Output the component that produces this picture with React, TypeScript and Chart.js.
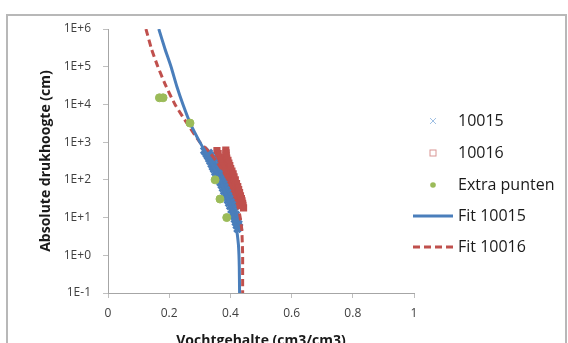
import React, { useEffect, useRef } from 'react';
import { Chart, registerables } from 'chart.js';
Chart.register(...registerables);

// Axis ticks
const yTickValues = [0.1, 1, 10, 100, 1000, 10000, 100000, 1000000];
const yTickLabels = ['1E-1', '1E+0', '1E+1', '1E+2', '1E+3', '1E+4', '1E+5', '1E+6'];

// Fit curves (pressure head h in cm, water content theta)
const fitHeads = [1e6, 3e5, 1e5, 3e4, 1e4, 3e3, 1e3, 500, 200, 100, 50, 20, 10, 5, 2, 1, 0.5, 0.1];
const fit10015Theta = [0.166, 0.186, 0.206, 0.225, 0.245, 0.270, 0.300, 0.322, 0.347, 0.366, 0.381, 0.400, 0.411, 0.420, 0.426, 0.428, 0.429, 0.430];
const fit10016Theta = [0.124, 0.142, 0.163, 0.190, 0.219, 0.260, 0.300, 0.335, 0.370, 0.392, 0.410, 0.425, 0.432, 0.437, 0.439, 0.440, 0.440, 0.440];

// Measured series 10015
const data10015Head = [600, 550, 480, 420, 360, 310, 260, 220, 190, 160, 135, 115, 100, 85, 72, 60, 50, 42, 35, 29, 24, 20, 16, 13, 11, 9, 7.5, 6.2, 5,
  520, 450, 390, 330, 285, 240, 205, 175, 148, 125, 108, 92, 78, 66, 55, 46, 38, 32, 26, 22, 18, 14.5, 12, 10, 8.2, 6.8, 5.6];
const data10015Theta = [0.314, 0.318, 0.322, 0.326, 0.330, 0.334, 0.338, 0.342, 0.346, 0.350, 0.355, 0.359, 0.363, 0.367, 0.371, 0.375, 0.379, 0.383, 0.387, 0.391, 0.395, 0.399, 0.403, 0.407, 0.411, 0.414, 0.417, 0.420, 0.423,
  0.330, 0.334, 0.338, 0.342, 0.346, 0.350, 0.354, 0.358, 0.362, 0.366, 0.370, 0.374, 0.378, 0.382, 0.386, 0.390, 0.394, 0.398, 0.402, 0.406, 0.410, 0.414, 0.418, 0.421, 0.424, 0.427, 0.429];

// Measured series 10016
const data10016Head = [600, 500, 400, 330, 280, 230, 190, 160, 130, 110, 90, 75, 60, 50, 42, 35, 30, 26, 22,
  620, 520, 450, 380, 330, 280, 240, 200, 170, 145, 120, 100, 80, 66, 55, 46, 38, 32, 28, 24, 21, 18];
const data10016Theta = [0.356, 0.360, 0.364, 0.368, 0.372, 0.376, 0.380, 0.384, 0.388, 0.392, 0.395, 0.399, 0.403, 0.407, 0.410, 0.414, 0.418, 0.421, 0.425,
  0.385, 0.386, 0.386, 0.388, 0.392, 0.395, 0.398, 0.401, 0.405, 0.409, 0.412, 0.416, 0.420, 0.424, 0.427, 0.430, 0.433, 0.436, 0.438, 0.440, 0.441, 0.443];

// Extra points
const extraHead = [15000, 15000, 3200, 100, 31, 10];
const extraTheta = [0.168, 0.180, 0.268, 0.350, 0.366, 0.388];

const legendItems = ['10015', '10016', 'Extra punten', 'Fit 10015', 'Fit 10016'];

const BLUE = '#4a7ebb';
const RED = '#c0504d';
const GREEN = '#9bbb59';

function pts(xs: number[], ys: number[]) {
  return xs.map((x, i) => ({ x, y: ys[i] }));
}

const legendPlugin = {
  id: 'customLegend',
  afterDraw(chart: any) {
    const ctx = chart.ctx as CanvasRenderingContext2D;
    const rows = [121, 153, 185, 216, 247];
    const mx = 433;
    const tx = 458;
    ctx.save();
    ctx.font = '16px "Open Sans"';
    ctx.fillStyle = '#1a1a1a';
    ctx.textBaseline = 'middle';
    ctx.textAlign = 'left';
    legendItems.forEach((t, i) => ctx.fillText(t, tx, rows[i]));
    // cross
    ctx.strokeStyle = '#9fc0e4';
    ctx.lineWidth = 1;
    ctx.beginPath();
    ctx.moveTo(mx - 3, rows[0] - 3); ctx.lineTo(mx + 3, rows[0] + 3);
    ctx.moveTo(mx + 3, rows[0] - 3); ctx.lineTo(mx - 3, rows[0] + 3);
    ctx.stroke();
    // square
    ctx.strokeStyle = '#d99694';
    ctx.strokeRect(mx - 3, rows[1] - 3, 6, 6);
    // dot
    ctx.fillStyle = GREEN;
    ctx.beginPath();
    ctx.arc(mx, rows[2], 2.8, 0, Math.PI * 2);
    ctx.fill();
    // lines
    ctx.lineWidth = 3;
    ctx.strokeStyle = BLUE;
    ctx.beginPath(); ctx.moveTo(413, rows[3]); ctx.lineTo(453, rows[3]); ctx.stroke();
    ctx.strokeStyle = RED;
    ctx.setLineDash([7, 4]);
    ctx.beginPath(); ctx.moveTo(413, rows[4]); ctx.lineTo(453, rows[4]); ctx.stroke();
    ctx.restore();
  },
};

export default function App() {
  const ref = useRef<HTMLCanvasElement>(null);
  useEffect(() => {
    document.body.style.margin = '0';
    document.body.style.overflow = 'hidden';
    const chart = new Chart(ref.current!, {
      type: 'scatter',
      data: {
        datasets: [
          {
            label: 'Extra punten',
            data: pts(extraTheta, extraHead),
            pointStyle: 'circle',
            pointRadius: 4,
            backgroundColor: GREEN,
            borderColor: GREEN,
            borderWidth: 1,
            order: 1,
          },
          {
            label: 'Fit 10015',
            data: pts(fit10015Theta, fitHeads),
            showLine: true,
            pointRadius: 0,
            borderColor: BLUE,
            borderWidth: 3,
            tension: 0.2,
            order: 2,
          },
          {
            label: 'Fit 10016',
            data: pts(fit10016Theta, fitHeads),
            showLine: true,
            pointRadius: 0,
            borderColor: RED,
            borderWidth: 3,
            borderDash: [7, 4],
            tension: 0.2,
            order: 3,
          },
          {
            label: '10015',
            data: pts(data10015Theta, data10015Head),
            pointStyle: 'crossRot',
            pointRadius: 4.5,
            borderColor: BLUE,
            borderWidth: 3,
            order: 4,
          },
          {
            label: '10016',
            data: pts(data10016Theta, data10016Head),
            pointStyle: 'rect',
            pointRadius: 4,
            borderColor: RED,
            backgroundColor: RED,
            borderWidth: 1.5,
            order: 5,
          },
        ],
      },
      options: {
        responsive: false,
        animation: false,
        layout: { padding: { left: 0, right: 154, top: 29, bottom: 0 } },
        plugins: { legend: { display: false }, tooltip: { enabled: false } },
        scales: {
          x: {
            type: 'linear',
            min: 0,
            max: 1,
            ticks: {
              stepSize: 0.2,
              padding: 8,
              color: '#404040',
              font: { family: '"Open Sans"', size: 12 },
              callback: (v: any) => String(Number(Number(v).toFixed(1))),
            },
            grid: { drawOnChartArea: false, tickLength: 5, color: '#bfbfbf' },
            border: { color: '#a6a6a6', width: 1 },
            title: {
              display: true,
              text: 'Vochtgehalte (cm3/cm3)',
              color: '#1a1a1a',
              font: { family: '"Open Sans"', size: 14, weight: 'bold' },
              padding: { top: 0, bottom: 0 },
            },
            afterFit: (s: any) => {
              s.height = 56;
              s.paddingLeft = 0;
              s.paddingRight = 0;
            },
          },
          y: {
            type: 'logarithmic',
            min: 0.1,
            max: 1e6,
            afterBuildTicks: (s: any) => {
              s.ticks = yTickValues.map((v) => ({ value: v }));
            },
            ticks: {
              padding: 12,
              color: '#404040',
              font: { family: '"Open Sans"', size: 12 },
              callback: (_v: any, i: number) => yTickLabels[i],
            },
            grid: { drawOnChartArea: false, tickLength: 5, color: '#bfbfbf' },
            border: { color: '#a6a6a6', width: 1 },
            title: {
              display: true,
              text: 'Absolute drukhoogte (cm)',
              color: '#1a1a1a',
              font: { family: '"Open Sans"', size: 14, weight: 'bold' },
              padding: { top: 38, bottom: 0 },
            },
            afterFit: (s: any) => {
              s.width = 108;
              s.paddingTop = 0;
              s.paddingBottom = 0;
            },
          },
        },
      } as any,
      plugins: [legendPlugin],
    });
    return () => chart.destroy();
  }, []);
  return (
    <div style={{ position: 'fixed', left: 0, top: 0, width: 568, height: 343, overflow: 'hidden', background: '#fff' }}>
      <div style={{ position: 'absolute', left: 6, top: 14, width: 561, height: 345, border: '2px solid #b8b8b8', boxSizing: 'border-box' }} />
      <canvas ref={ref} width={568} height={349} style={{ position: 'absolute', left: 0, top: 0, width: 568, height: 349 }} />
    </div>
  );
}
